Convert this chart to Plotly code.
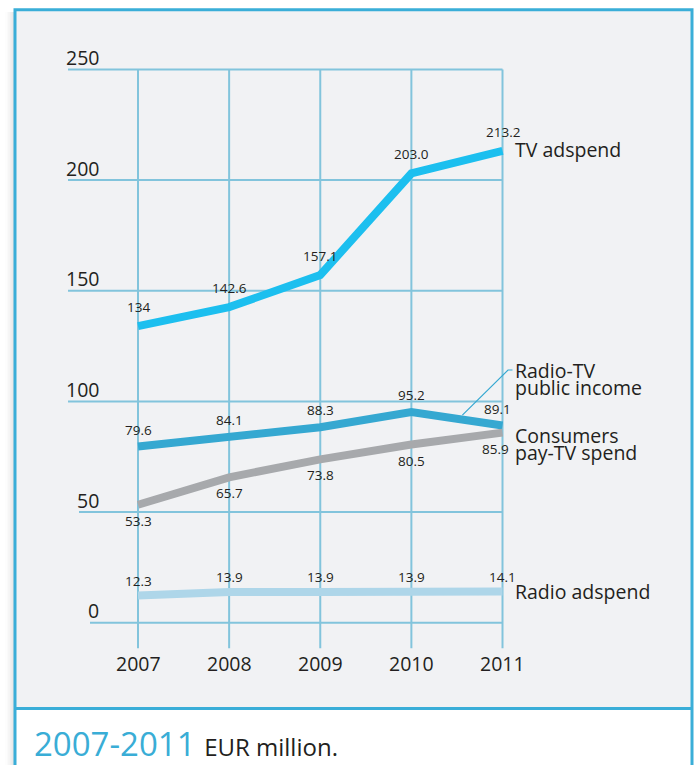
import plotly.graph_objects as go

# ---------------- data ----------------
years = [2007, 2008, 2009, 2010, 2011]
x_tick_labels = ["2007", "2008", "2009", "2010", "2011"]
y_ticks = [0, 50, 100, 150, 200, 250]
y_tick_labels = ["0", "50", "100", "150", "200", "250"]

tv_adspend = [134, 142.6, 157.1, 203.0, 213.2]
tv_adspend_text = ["134", "142.6", "157.1", "203.0", "213.2"]

radio_tv_public_income = [79.6, 84.1, 88.3, 95.2, 89.1]
radio_tv_public_income_text = ["79.6", "84.1", "88.3", "95.2", "89.1"]

consumers_pay_tv_spend = [53.3, 65.7, 73.8, 80.5, 85.9]
consumers_pay_tv_spend_text = ["53.3", "65.7", "73.8", "80.5", "85.9"]

radio_adspend = [12.3, 13.9, 13.9, 13.9, 14.1]
radio_adspend_text = ["12.3", "13.9", "13.9", "13.9", "14.1"]

caption_period = "2007-2011"
caption_unit = "EUR million."

# ---------------- layout calibration (pixels) ----------------
OFF = 0                      # body margin removed by post_script
W, H = 694, 765
PX_X0 = 138.0 - OFF          # pixel x of first year
PX_PER_YEAR = 91.125
PX_Y0 = 622.7 - OFF          # pixel y of value 0
PX_PER_UNIT = 2.213
X_RANGE = [2005.6, 2012.9]
Y_RANGE = [-30, 270]

FONT = "Open Sans"
TEXT = "#231F20"
GRID = "#82C4DC"
FRAME = "#3AAED8"
BG = "#F1F2F4"


def dx(px):
    return px / PX_PER_YEAR


def dy(px):
    return px / PX_PER_UNIT


def px_x(xd):
    return PX_X0 + (xd - years[0]) * PX_PER_YEAR


def px_y(v):
    return PX_Y0 - v * PX_PER_UNIT


def fx(ref_px):
    return (ref_px - OFF) / W


def fy(ref_py):
    return 1 - (ref_py - OFF) / H


dom_x = [max(0.0, px_x(X_RANGE[0]) / W), min(1.0, px_x(X_RANGE[1]) / W)]
dom_y = [max(0.0, 1 - px_y(Y_RANGE[0]) / H), min(1.0, 1 - px_y(Y_RANGE[1]) / H)]

series = [
    dict(values=tv_adspend, text=tv_adspend_text, color="#1CBFEF",
         names=["TV adspend"], name_dy=[1], label_dy=19, last_dx=0),
    dict(values=radio_tv_public_income, text=radio_tv_public_income_text, color="#35A8D1",
         names=["Radio-TV", "public income"], name_dy=[55.5, 38.0], label_dy=17, last_dx=-5),
    dict(values=consumers_pay_tv_spend, text=consumers_pay_tv_spend_text, color="#A7A9AC",
         names=["Consumers", "pay-TV spend"], name_dy=[-2.5, -20.0], label_dy=-16, last_dx=-7),
    dict(values=radio_adspend, text=radio_adspend_text, color="#AED6E9",
         names=["Radio adspend"], name_dy=[0], label_dy=14.5, last_dx=0),
]

fig = go.Figure()

shapes = []
# frame: shadow, background, border, separator
for i in range(8):
    shapes.append(dict(type="rect", xref="paper", yref="paper",
                       x0=fx(13.5 - i * 1.2), x1=fx(14.7 - i * 1.2),
                       y0=-0.02, y1=fy(12),
                       fillcolor="rgba(120,120,120,%.3f)" % (0.22 * (1 - i / 8) ** 1.5),
                       line=dict(width=0), layer="below"))
shapes.append(dict(type="rect", xref="paper", yref="paper",
                   x0=fx(15), x1=fx(692), y0=fy(708.5), y1=fy(9.7),
                   fillcolor=BG, line=dict(width=0), layer="below"))
shapes.append(dict(type="rect", xref="paper", yref="paper",
                   x0=fx(15), x1=fx(692), y0=-0.02, y1=fy(9.7),
                   fillcolor="rgba(0,0,0,0)", line=dict(color=FRAME, width=3), layer="below"))
shapes.append(dict(type="line", xref="paper", yref="paper",
                   x0=fx(15), x1=fx(692), y0=fy(708.5), y1=fy(708.5),
                   line=dict(color=FRAME, width=3), layer="below"))

# grid lines
LABEL_RIGHT_PX = 101 - OFF
DIGIT_PX = 11
for yt, lab in zip(y_ticks, y_tick_labels):
    left_px = LABEL_RIGHT_PX - DIGIT_PX * len(lab)
    shapes.append(dict(type="line", xref="x", yref="y",
                       x0=years[0] - dx(PX_X0 - left_px), x1=years[-1], y0=yt, y1=yt,
                       line=dict(color=GRID, width=2), layer="below"))
for yr in years:
    shapes.append(dict(type="line", xref="x", yref="y",
                       x0=yr, x1=yr, y0=y_ticks[0] - dy(25.5), y1=y_ticks[-1],
                       line=dict(color=GRID, width=2), layer="below"))

# leader line for Radio-TV public income
lead_x = years[3] + dx(51)
frac = (lead_x - years[3]) / (years[4] - years[3])
lead_v = radio_tv_public_income[3] + frac * (radio_tv_public_income[4] - radio_tv_public_income[3]) + dy(4.5)
end_v = radio_tv_public_income[4] + dy(55.5)
shapes.append(dict(type="path", xref="x", yref="y",
                   path="M %f,%f L %f,%f L %f,%f" % (lead_x, lead_v, years[4] + dx(5.5), end_v,
                                                     years[4] + dx(10), end_v),
                   line=dict(color="#35A8D1", width=1.2), layer="above"))

for s in series:
    fig.add_trace(go.Scatter(x=years, y=s["values"], mode="lines",
                             line=dict(color=s["color"], width=8),
                             hoverinfo="skip", showlegend=False, cliponaxis=False))

annotations = []
for s in series:
    n = len(years)
    for i, (yr, v, t) in enumerate(zip(years, s["values"], s["text"])):
        annotations.append(dict(x=yr, y=v, xref="x", yref="y", text=t, showarrow=False,
                                xanchor="center", yanchor="middle",
                                xshift=s["last_dx"] if i == n - 1 else 0,
                                yshift=s["label_dy"],
                                font=dict(family=FONT, size=13.5, color=TEXT)))
    for name, ndy in zip(s["names"], s["name_dy"]):
        annotations.append(dict(x=years[-1], y=s["values"][-1], xref="x", yref="y",
                                text=name, showarrow=False, xanchor="left", yanchor="middle",
                                xshift=10.5, yshift=ndy,
                                font=dict(family=FONT, size=19.5, color=TEXT)))

for yt, lab in zip(y_ticks, y_tick_labels):
    annotations.append(dict(x=years[0], y=yt, xref="x", yref="y", text=lab, showarrow=False,
                            xanchor="right", yanchor="middle",
                            xshift=-(PX_X0 - LABEL_RIGHT_PX), yshift=12,
                            font=dict(family=FONT, size=19.5, color=TEXT)))
for yr, lab in zip(years, x_tick_labels):
    annotations.append(dict(x=yr, y=y_ticks[0], xref="x", yref="y", text=lab, showarrow=False,
                            xanchor="center", yanchor="middle", yshift=-40.5,
                            font=dict(family=FONT, size=19.5, color=TEXT)))

annotations.append(dict(x=fx(32), y=fy(743), xref="paper", yref="paper",
                        xanchor="left", yanchor="middle", showarrow=False,
                        text=("<span style='font-size:33px;color:#39ADD6'>%s </span>"
                              "<span style='font-size:24px;color:%s'>%s</span>")
                             % (caption_period, TEXT, caption_unit),
                        font=dict(family=FONT, size=24, color=TEXT)))

fig.update_layout(
    width=W, height=H, autosize=False,
    margin=dict(l=0, r=0, t=0, b=0, pad=0),
    paper_bgcolor="white", plot_bgcolor="rgba(0,0,0,0)",
    xaxis=dict(domain=dom_x, range=X_RANGE, visible=False, fixedrange=True),
    yaxis=dict(domain=dom_y, range=Y_RANGE, visible=False, fixedrange=True),
    shapes=shapes, annotations=annotations, showlegend=False,
    hovermode=False,
)

fig.write_html("out.html",
               config={"displayModeBar": False, "staticPlot": True},
               post_script="document.body.style.margin='0';document.body.style.overflow='hidden';")
